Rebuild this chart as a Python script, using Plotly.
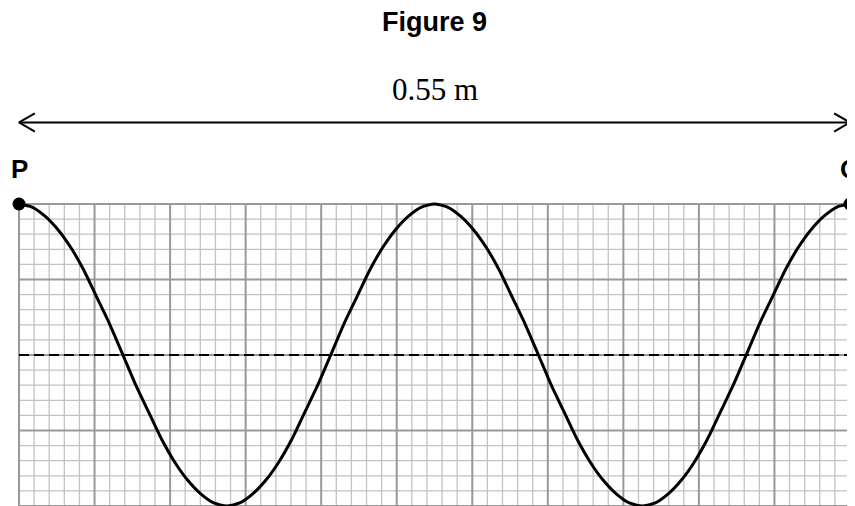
import plotly.graph_objects as go

# ---- data (cm along the string / displacement in grid squares) ----
length_cm = 55            # 0.55 m
amplitude = 10
minor_step = 1
major_step = 5
wave_x = [0, 0.86, 1.72, 2.58, 3.44, 4.30, 5.16, 6.02, 6.88, 7.73, 8.59, 9.45, 10.31,
          11.17, 12.03, 12.89, 13.75, 14.61, 15.47, 16.33, 17.19, 18.05, 18.91, 19.77,
          20.63, 21.48, 22.34, 23.20, 24.06, 24.92, 25.78, 26.64, 27.5,
          28.36, 29.22, 30.08, 30.94, 31.80, 32.66, 33.52, 34.38, 35.23, 36.09, 36.95,
          37.81, 38.67, 39.53, 40.39, 41.25, 42.11, 42.97, 43.83, 44.69, 45.55, 46.41,
          47.27, 48.13, 48.98, 49.84, 50.70, 51.56, 52.42, 53.28, 54.14, 55]
wave_y = [10, 9.8, 9.2, 8.3, 7.1, 5.6, 3.8, 2.0, 0, -2.0, -3.8, -5.6, -7.1,
          -8.3, -9.2, -9.8, -10, -9.8, -9.2, -8.3, -7.1, -5.6, -3.8, -2.0,
          0, 2.0, 3.8, 5.6, 7.1, 8.3, 9.2, 9.8, 10,
          9.8, 9.2, 8.3, 7.1, 5.6, 3.8, 2.0, 0, -2.0, -3.8, -5.6,
          -7.1, -8.3, -9.2, -9.8, -10, -9.8, -9.2, -8.3, -7.1, -5.6, -3.8,
          -2.0, 0, 2.0, 3.8, 5.6, 7.1, 8.3, 9.2, 9.8, 10]
end_labels = ["P", "Q"]
end_x = [0, 55]
end_y = [10, 10]
span_label = "0.55 m"
title_text = "Figure 9"
arrow_y = 15.4

fig = go.Figure()

# grid
def grid_trace(step_filter, color, width):
    xs, ys = [], []
    for i in range(0, length_cm + 1, minor_step):
        if step_filter(i):
            xs += [i, i, None]
            ys += [-amplitude, amplitude, None]
    for j in range(-amplitude, amplitude + 1, minor_step):
        if step_filter(j):
            xs += [0, length_cm, None]
            ys += [j, j, None]
    return go.Scatter(x=xs, y=ys, mode="lines", line=dict(color=color, width=width),
                      hoverinfo="skip", showlegend=False)

fig.add_trace(grid_trace(lambda v: v % major_step != 0, "#c2c2c2", 1.3))
fig.add_trace(grid_trace(lambda v: v % major_step == 0, "#999999", 2))

# dashed midline
fig.add_trace(go.Scatter(x=[0, length_cm + 0.3], y=[0, 0], mode="lines",
                         line=dict(color="black", width=2, dash="10px,5px"),
                         hoverinfo="skip", showlegend=False))

# wave
fig.add_trace(go.Scatter(x=wave_x, y=wave_y, mode="lines",
                         line=dict(color="black", width=3, shape="spline", smoothing=0.6),
                         hoverinfo="skip", showlegend=False))

# end points
fig.add_trace(go.Scatter(x=end_x, y=end_y, mode="markers",
                         marker=dict(color="black", size=13),
                         hoverinfo="skip", showlegend=False))

# double arrow
head_dx, head_dy = 1.05, 0.6
fig.add_trace(go.Scatter(
    x=[0, length_cm, None,
       head_dx, 0, head_dx, None,
       length_cm - head_dx, length_cm, length_cm - head_dx],
    y=[arrow_y, arrow_y, None,
       arrow_y + head_dy, arrow_y, arrow_y - head_dy, None,
       arrow_y + head_dy, arrow_y, arrow_y - head_dy],
    mode="lines", line=dict(color="black", width=2),
    hoverinfo="skip", showlegend=False))

annotations = [
    dict(x=length_cm / 2, y=17.6, text=span_label, showarrow=False,
         font=dict(family="Liberation Serif", size=31, color="black"),
         xanchor="center", yanchor="middle"),
    dict(x=length_cm / 2, y=22.05, text="<b>" + title_text + "</b>", showarrow=False,
         font=dict(family="Liberation Sans", size=27, color="black"),
         xanchor="center", yanchor="middle"),
]
for lab, xv in zip(end_labels, end_x):
    annotations.append(dict(x=xv, y=12.35, text="<b>" + lab + "</b>", showarrow=False,
                            font=dict(family="Liberation Sans", size=26, color="black"),
                            xanchor="center", yanchor="middle"))

# page has an 8px body margin: figure occupies 847x498 starting at (8, 8)
fig.update_layout(
    width=847, height=498, autosize=False,
    margin=dict(l=0, r=0, t=0, b=0),
    paper_bgcolor="white", plot_bgcolor="white",
    xaxis=dict(range=[-0.728, 55.331], visible=False, fixedrange=True),
    yaxis=dict(range=[-10, 22.98], visible=False, fixedrange=True),
    annotations=annotations,
    showlegend=False,
)

fig.write_html("out.html")
